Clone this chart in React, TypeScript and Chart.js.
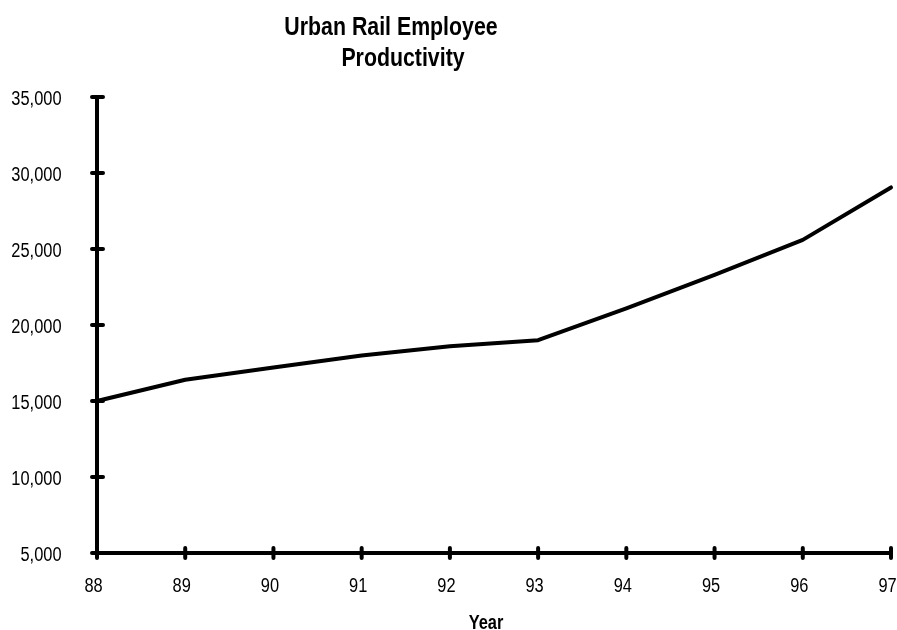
import React, { useEffect, useRef } from 'react';
import { Chart, registerables } from 'chart.js';

Chart.register(...registerables);

// Fiscal years (two-digit) and passenger trips per employee
const years = ['88', '89', '90', '91', '92', '93', '94', '95', '96', '97'];
const productivity = [15000, 16400, 17200, 18000, 18600, 19000, 21100, 23300, 25600, 29050];
const yMin = 5000;
const yMax = 35000;
const yStep = 5000;
const titleLines = ['Urban Rail Employee', 'Productivity'];
const xAxisTitle = 'Year';

const SANS = '"Liberation Sans", Arial, sans-serif';
// Horizontal squeeze that turns the regular face into a narrow one
const NARROW_SCALE = 0.82;

function narrowText(
  ctx: CanvasRenderingContext2D,
  text: string,
  x: number,
  y: number,
  align: CanvasTextAlign,
  font: string
) {
  ctx.save();
  ctx.font = font;
  ctx.textAlign = align;
  ctx.textBaseline = 'alphabetic';
  ctx.translate(x, y);
  ctx.scale(NARROW_SCALE, 1);
  ctx.fillText(text, 0, 0);
  ctx.restore();
}

// Draws the heavy axis lines with ticks crossing them, tick labels, title and axis caption
const decorPlugin = {
  id: 'decor',
  afterDraw(chart: any) {
    const { ctx, chartArea, scales } = chart;
    const x = scales.x;
    const y = scales.y;
    ctx.save();
    ctx.strokeStyle = '#000';
    ctx.lineWidth = 4;
    ctx.lineCap = 'round';

    const top = y.getPixelForValue(yMax);
    ctx.beginPath();
    ctx.moveTo(chartArea.left, top);
    ctx.lineTo(chartArea.left, chartArea.bottom);
    ctx.moveTo(chartArea.left, chartArea.bottom);
    ctx.lineTo(chartArea.right, chartArea.bottom);
    ctx.stroke();

    ctx.beginPath();
    y.ticks.forEach((_t: any, i: number) => {
      const py = y.getPixelForTick(i);
      ctx.moveTo(chartArea.left - 5, py);
      ctx.lineTo(chartArea.left + 6, py);
    });
    x.ticks.forEach((_t: any, i: number) => {
      const px = x.getPixelForTick(i);
      ctx.moveTo(px, chartArea.bottom - 5);
      ctx.lineTo(px, chartArea.bottom + 5);
    });
    ctx.stroke();
    ctx.restore();

    ctx.save();
    ctx.fillStyle = '#000';
    const tickFont = `20px ${SANS}`;
    y.ticks.forEach((t: any, i: number) => {
      const py = y.getPixelForTick(i);
      narrowText(ctx, String(t.label), chartArea.left - 35.5, py + 7.5, 'right', tickFont);
    });
    x.ticks.forEach((t: any, i: number) => {
      const px = x.getPixelForTick(i);
      narrowText(ctx, String(t.label), px - 3.5, chartArea.bottom + 39, 'center', tickFont);
    });

    const titleFont = `bold 26px ${SANS}`;
    narrowText(ctx, titleLines[0], 391, 35, 'center', titleFont);
    narrowText(ctx, titleLines[1], 403, 66, 'center', titleFont);

    narrowText(ctx, xAxisTitle, 486, 629, 'center', `bold 20px ${SANS}`);
    ctx.restore();
  },
};

export default function App() {
  const canvasRef = useRef<HTMLCanvasElement | null>(null);

  useEffect(() => {
    const canvas = canvasRef.current;
    if (!canvas) return;
    const chart = new Chart(canvas, {
      type: 'line',
      data: {
        labels: years,
        datasets: [
          {
            data: productivity,
            borderColor: '#000',
            borderWidth: 4,
            pointRadius: 0,
            pointHoverRadius: 0,
            tension: 0,
            fill: false,
            borderJoinStyle: 'round',
            borderCapStyle: 'round',
            clip: 8,
          },
        ],
      },
      options: {
        responsive: false,
        animation: false,
        devicePixelRatio: 1,
        events: [],
        layout: { padding: { top: 97, right: 6, left: 0, bottom: 0 } },
        plugins: {
          legend: { display: false },
          title: { display: false },
          tooltip: { enabled: false },
        },
        scales: {
          x: {
            type: 'category',
            offset: false,
            grid: { display: false, drawTicks: false },
            border: { display: false },
            ticks: { display: false, autoSkip: false, maxRotation: 0 },
            afterFit(scale: any) {
              scale.height = 77;
              scale.paddingLeft = 0;
              scale.paddingRight = 0;
            },
          },
          y: {
            min: yMin,
            max: yMax,
            grid: { display: false, drawTicks: false },
            border: { display: false },
            ticks: {
              display: false,
              stepSize: yStep,
              callback: (v: any) => Number(v).toLocaleString('en-US'),
            },
            afterFit(scale: any) {
              scale.width = 97;
              scale.paddingTop = 0;
              scale.paddingBottom = 0;
            },
          },
        },
      },
      plugins: [decorPlugin],
    });
    return () => chart.destroy();
  }, []);

  return (
    <div style={{ position: 'absolute', left: 0, top: 0, width: 897, height: 630, background: '#fff' }}>
      <canvas ref={canvasRef} width={897} height={630} />
    </div>
  );
}
